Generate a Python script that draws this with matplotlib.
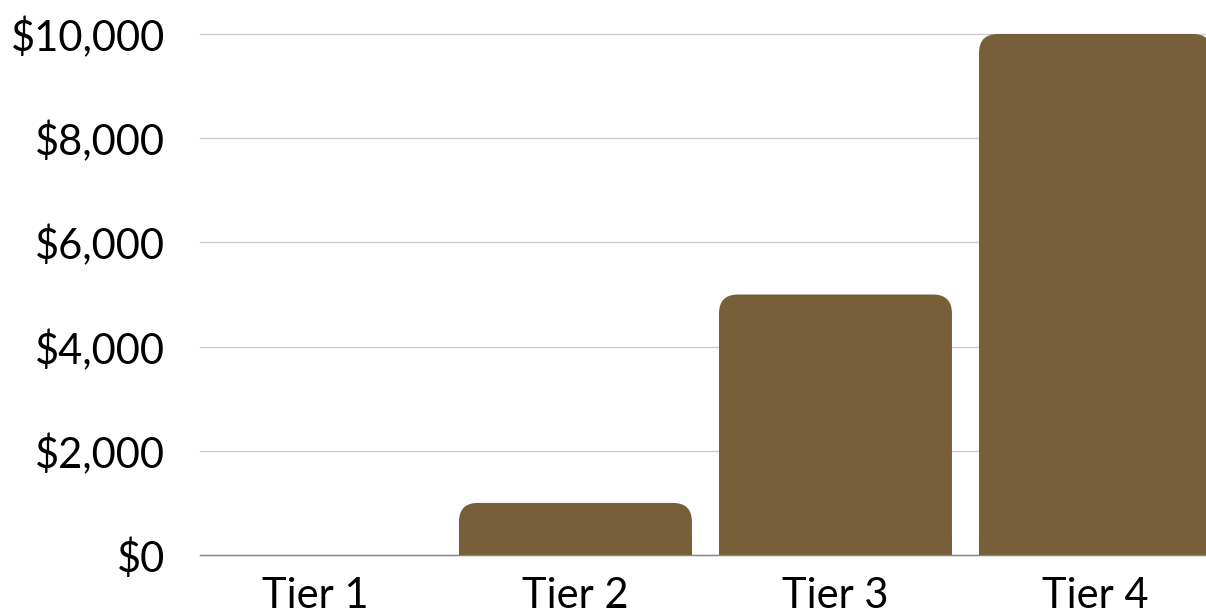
import matplotlib
matplotlib.use("Agg")
import matplotlib.pyplot as plt
from matplotlib.patches import FancyBboxPatch, Rectangle
from matplotlib.ticker import FuncFormatter

tiers = ["Tier 1", "Tier 2", "Tier 3", "Tier 4"]
amounts = [0, 1000, 5000, 10000]
y_ticks = [0, 2000, 4000, 6000, 8000, 10000]

bar_color = "#775f3a"
plt.rcParams['font.family'] = ['Lato', 'DejaVu Sans']

fig = plt.figure(figsize=(12.06, 6.14), dpi=100)
W, H = 1206, 614
ax = fig.add_axes([200 / W, (H - 555) / H, (W - 200) / W, (555 - 34) / H])

x_left, x_right = -0.444, 3.425
ax.set_xlim(x_left, x_right)
ax.set_ylim(0, 10000)

width = 0.896
# corner radius in pixels -> data units for x and y
r_px = 19
px_x = (x_right - x_left) / (W - 200)
px_y = 10000 / (555 - 34)
rx = r_px * px_x
ry = r_px * px_y

for i, v in enumerate(amounts):
    if v <= 0:
        continue
    left = i - width / 2
    box = FancyBboxPatch((left, 0), width, v,
                         boxstyle="round,pad=0,rounding_size=%f" % rx,
                         mutation_aspect=ry / rx,
                         fc=bar_color, ec="none", zorder=3, clip_on=False)
    ax.add_patch(box)
    # square off the bottom corners
    ax.add_patch(Rectangle((left, 0), width, min(v, ry), fc=bar_color,
                           ec="none", zorder=3, clip_on=False))

ax.set_xticks(range(len(tiers)))
ax.set_xticklabels(tiers)
ax.set_yticks(y_ticks)
ax.yaxis.set_major_formatter(FuncFormatter(lambda v, p: "${:,.0f}".format(v)))
ax.tick_params(axis="both", length=0, labelsize=30, colors="black")
ax.tick_params(axis="y", pad=25)
ax.tick_params(axis="x", pad=16)

ax.grid(axis="y", color="#cccccc", linewidth=1, zorder=0)
for t in ax.get_ygridlines():
    t.set_clip_on(False)
for s in ["top", "right", "left"]:
    ax.spines[s].set_visible(False)
ax.spines["bottom"].set_color("#888888")
ax.spines["bottom"].set_linewidth(1)
ax.spines["bottom"].set_zorder(2)

fig.savefig("out.png", dpi=100)
